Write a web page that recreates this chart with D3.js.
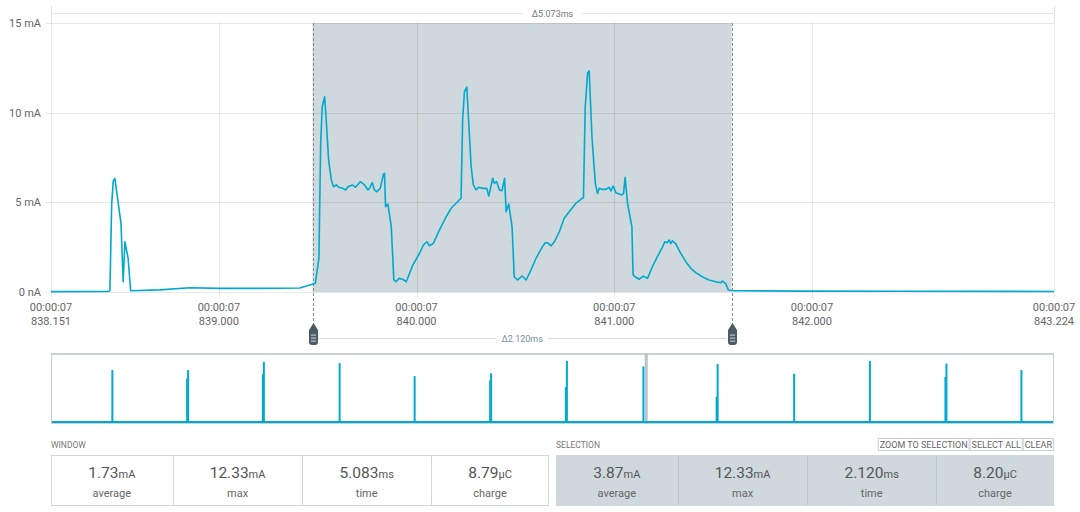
<!DOCTYPE html>
<html>
<head>
<meta charset="utf-8">
<script src="https://cdn.jsdelivr.net/npm/d3@7"></script>
<style>
    body { margin: 0; background: #fff; }
    svg { font-family: Roboto, "Noto Sans", sans-serif; display: block; }
</style>
</head>
<body>
<svg id="chart" width="1080" height="512"></svg>
<script>
// ---- data ----
// trace: time (ms within second 00:00:07) and current (mA)
const traceTimes = [838.151, 838.444, 838.449, 838.458, 838.466, 838.474, 838.505, 838.516, 838.525, 838.541,
    838.554, 838.702, 838.853, 839.005, 839.207, 839.409, 839.476, 839.488, 839.506, 839.515,
    839.523, 839.535, 839.543, 839.555, 839.569, 839.580, 839.594, 839.607, 839.627, 839.641,
    839.653, 839.675, 839.691, 839.715, 839.737, 839.754, 839.762, 839.776, 839.787, 839.799,
    839.816, 839.833, 839.838, 839.843, 839.855, 839.872, 839.885, 839.897, 839.910, 839.930,
    839.948, 839.981, 840.015, 840.035, 840.052, 840.065, 840.085, 840.116, 840.150, 840.175,
    840.200, 840.225, 840.233, 840.242, 840.254, 840.264, 840.276, 840.287, 840.301, 840.314,
    840.334, 840.355, 840.365, 840.372, 840.385, 840.393, 840.405, 840.419, 840.432, 840.445,
    840.453, 840.466, 840.483, 840.494, 840.511, 840.533, 840.554, 840.579, 840.604, 840.637,
    840.651, 840.663, 840.680, 840.697, 840.722, 840.747, 840.772, 840.806, 840.831, 840.844,
    840.853, 840.865, 840.873, 840.887, 840.904, 840.915, 840.924, 840.940, 840.958, 840.974,
    840.983, 840.994, 841.008, 841.025, 841.038, 841.047, 841.055, 841.067, 841.089, 841.095,
    841.109, 841.126, 841.146, 841.168, 841.193, 841.218, 841.243, 841.256, 841.269, 841.277,
    841.286, 841.294, 841.311, 841.336, 841.362, 841.387, 841.412, 841.445, 841.479, 841.513,
    841.538, 841.547, 841.564, 841.577, 841.597, 841.934, 842.439, 843.224];

const traceCurrent = [0.02, 0.03, 0.10, 4.9, 6.2, 6.34, 3.83, 0.57, 2.8, 1.88,
    0.07, 0.12, 0.24, 0.20, 0.20, 0.22, 0.45, 0.49, 1.88, 8.3,
    10.33, 10.89, 9.6, 7.36, 6.25, 5.87, 5.97, 5.84, 5.78, 5.69,
    5.87, 5.97, 5.84, 6.15, 5.97, 5.69, 5.78, 6.10, 5.69, 5.59,
    5.78, 6.58, 6.62, 4.76, 4.90, 3.64, 0.67, 0.57, 0.76, 0.71,
    0.57, 1.50, 2.16, 2.62, 2.80, 2.58, 2.71, 3.46, 4.20, 4.67,
    4.95, 5.23, 9.59, 11.17, 11.42, 9.40, 6.99, 5.97, 5.69, 5.84,
    5.78, 5.78, 5.35, 5.69, 6.34, 6.06, 6.15, 5.69, 5.65, 6.34,
    4.48, 4.90, 3.64, 0.85, 0.67, 0.89, 0.67, 1.23, 1.88, 2.53,
    2.75, 2.75, 2.57, 2.80, 3.36, 4.11, 4.48, 4.95, 5.17, 5.26,
    10.33, 12.20, 12.33, 8.66, 6.06, 5.50, 5.78, 5.72, 5.72, 5.84,
    5.63, 5.91, 5.54, 5.47, 5.41, 5.50, 6.40, 4.95, 3.64, 0.95,
    0.82, 0.71, 0.89, 0.76, 1.41, 1.97, 2.49, 2.80, 2.75, 2.90,
    2.70, 2.86, 2.68, 2.16, 1.69, 1.32, 1.08, 0.85, 0.67, 0.57,
    0.52, 0.61, 0.45, 0.11, 0.07, 0.05, 0.04, 0.03];

const windowRange = [838.151, 843.224];
const selectionRange = [839.474, 841.594];
const windowDelta = "Δ5.073ms";
const selectionDelta = "Δ2.120ms";

const yTicks = [0, 5, 10, 15];
const yTickLabels = ["0 nA", "5 mA", "10 mA", "15 mA"];
const xTicks = [838.151, 839, 840, 841, 842, 843.224];
const xTickPrefix = "00:00:07";

// overview (whole recording, seconds): spike time, peak mA, second lower peak mA (0 = none)
const overviewSpikeTimes = [0.81, 1.81, 2.81, 3.81, 4.80, 5.81, 6.81, 7.82, 8.80, 9.81, 10.81, 11.82, 12.81];
const overviewSpikePeaks = [11.5, 11.5, 13.3, 13.0, 10.2, 10.8, 13.5, 12.3, 12.8, 10.7, 13.5, 12.9, 11.5];
const overviewSpikeSecond = [0, 9.7, 10.6, 0, 0, 9.3, 7.8, 0, 5.7, 0, 0, 10.0, 0];
const overviewBase = 0.2;
const overviewDuration = 13.24;
const overviewWindowStart = 7.838;

const statLabels = ["average", "max", "time", "charge"];
const statUnits = ["mA", "mA", "ms", "µC"];
const windowValues = ["1.73", "12.33", "5.083", "8.79"];
const selectionValues = ["3.87", "12.33", "2.120", "8.20"];
const selectionButtons = ["ZOOM TO SELECTION", "SELECT ALL", "CLEAR"];

// ---- drawing ----
const blue = "#00a9ce";
const slate = "#cfd8dc";
const gridColor = "rgba(0,0,0,0.09)";

const svg = d3.select("#chart");

const plotLeft = 51, plotRight = 1054, plotTop = 23, plotBottom = 292;

const x = d3.scaleLinear().domain(windowRange).range([plotLeft, plotRight]);
const y = d3.scaleLinear().domain([0, 15]).range([plotBottom, plotTop]);

// selection shading
svg.append("rect")
    .attr("x", x(selectionRange[0]))
    .attr("y", plotTop)
    .attr("width", x(selectionRange[1]) - x(selectionRange[0]))
    .attr("height", plotBottom - plotTop)
    .attr("fill", slate);

// grid
svg.append("g").selectAll("line")
    .data(yTicks)
    .enter().append("line")
    .attr("x1", plotLeft - 5).attr("x2", plotRight)
    .attr("y1", d => Math.round(y(d)) + 0.5).attr("y2", d => Math.round(y(d)) + 0.5)
    .attr("stroke", gridColor);

svg.append("g").selectAll("line")
    .data(xTicks)
    .enter().append("line")
    .attr("x1", d => Math.round(x(d)) + 0.5).attr("x2", d => Math.round(x(d)) + 0.5)
    .attr("y1", plotTop).attr("y2", plotBottom + 6)
    .attr("stroke", gridColor);

// y labels
svg.append("g").selectAll("text")
    .data(yTicks)
    .enter().append("text")
    .attr("x", 41)
    .attr("y", d => y(d) + 4)
    .attr("text-anchor", "end")
    .attr("font-size", 11)
    .attr("fill", "#666")
    .text((d, i) => yTickLabels[i]);

// x labels (two lines)
const xl = svg.append("g").selectAll("text")
    .data(xTicks)
    .enter().append("text")
    .attr("text-anchor", "middle")
    .attr("font-size", 11)
    .attr("fill", "#666");
xl.append("tspan").attr("x", d => x(d)).attr("y", 311).text(xTickPrefix);
xl.append("tspan").attr("x", d => x(d)).attr("y", 325).text(d => d3.format(".3f")(d));

// top delta bracket for the whole window
const topY = 13.5;
svg.append("line")
    .attr("x1", plotLeft).attr("x2", plotRight).attr("y1", topY).attr("y2", topY)
    .attr("stroke", "#e3e7e9");
svg.append("g").selectAll("line")
    .data(windowRange)
    .enter().append("line")
    .attr("x1", d => Math.round(x(d)) + 0.5).attr("x2", d => Math.round(x(d)) + 0.5)
    .attr("y1", 6).attr("y2", plotTop)
    .attr("stroke", "#dde3e6");
const wMid = (x(windowRange[0]) + x(windowRange[1])) / 2;
svg.append("rect")
    .attr("x", wMid - 30).attr("y", 7).attr("width", 60).attr("height", 12)
    .attr("fill", "#fff");
svg.append("text")
    .attr("x", wMid).attr("y", topY + 3)
    .attr("text-anchor", "middle")
    .attr("font-size", 9)
    .attr("fill", "#777")
    .text(windowDelta);

// cursor dashed lines
svg.append("g").selectAll("line")
    .data(selectionRange)
    .enter().append("line")
    .attr("x1", d => Math.round(x(d)) + 0.5).attr("x2", d => Math.round(x(d)) + 0.5)
    .attr("y1", plotTop).attr("y2", 324)
    .attr("stroke", "#7b8d96")
    .attr("stroke-width", 1)
    .attr("stroke-dasharray", "3,2");

// trace
const line = d3.line()
    .x(d => x(d[0]))
    .y(d => y(d[1]));

svg.append("path")
    .datum(d3.zip(traceTimes, traceCurrent))
    .attr("d", line)
    .attr("fill", "none")
    .attr("stroke", blue)
    .attr("stroke-width", 1.6)
    .attr("stroke-linejoin", "round");

// selection delta bracket
const sY = 338.5;
const sMid = (x(selectionRange[0]) + x(selectionRange[1])) / 2;
svg.append("line")
    .attr("x1", x(selectionRange[0]) + 5).attr("x2", x(selectionRange[1]) - 5)
    .attr("y1", sY).attr("y2", sY)
    .attr("stroke", "#d5dde0");
svg.append("rect")
    .attr("x", sMid - 26).attr("y", sY - 6).attr("width", 52).attr("height", 12)
    .attr("fill", "#fff");
svg.append("text")
    .attr("x", sMid).attr("y", sY + 3)
    .attr("text-anchor", "middle")
    .attr("font-size", 9)
    .attr("fill", "#78909c")
    .text(selectionDelta);

// cursor handles
const handles = svg.append("g").selectAll("g")
    .data(selectionRange)
    .enter().append("g")
    .attr("transform", d => `translate(${Math.round(x(d)) + 0.5},0)`);
handles.append("path")
    .attr("d", "M0,323 L4.5,330 L4.5,342 Q4.5,345 1.5,345 L-1.5,345 Q-4.5,345 -4.5,342 L-4.5,330 Z")
    .attr("fill", "#4b5c66");
[334.5, 337.5, 340.5].forEach(yy => {
    handles.append("rect")
        .attr("x", -2.6).attr("y", yy).attr("width", 5.2).attr("height", 1.2)
        .attr("fill", "#b7c3c9");
});

// ---- overview ----
const oTop = 353, oBottom = 424;
const xo = d3.scaleLinear().domain([0, overviewDuration]).range([plotLeft, plotRight]);
const yo = d3.scaleLinear().domain([0, 15]).range([423, 354]);

svg.append("rect")
    .attr("x", plotLeft + 0.5).attr("y", oTop + 0.5)
    .attr("width", plotRight - plotLeft - 1).attr("height", oBottom - oTop - 1)
    .attr("fill", "#fff")
    .attr("stroke", "#c8d1d5");
svg.append("line")
    .attr("x1", plotLeft).attr("x2", plotRight).attr("y1", oTop + 1).attr("y2", oTop + 1)
    .attr("stroke", "#c8d1d5").attr("stroke-width", 2);

svg.append("rect")
    .attr("x", xo(overviewWindowStart))
    .attr("y", oTop)
    .attr("width", 3)
    .attr("height", oBottom - oTop)
    .attr("fill", "#b9c5cb");

svg.append("line")
    .attr("x1", plotLeft + 1).attr("x2", plotRight - 1)
    .attr("y1", yo(overviewBase)).attr("y2", yo(overviewBase))
    .attr("stroke", blue).attr("stroke-width", 2);

const spikes = svg.append("g").selectAll("g")
    .data(d3.zip(overviewSpikeTimes, overviewSpikePeaks, overviewSpikeSecond))
    .enter().append("g");
spikes.append("line")
    .attr("x1", d => xo(d[0])).attr("x2", d => xo(d[0]))
    .attr("y1", yo(0)).attr("y2", d => yo(d[1]))
    .attr("stroke", blue).attr("stroke-width", 2);
spikes.filter(d => d[2] > 0).append("line")
    .attr("x1", d => xo(d[0]) - 1.2).attr("x2", d => xo(d[0]) - 1.2)
    .attr("y1", yo(0)).attr("y2", d => yo(d[2]))
    .attr("stroke", blue).attr("stroke-width", 1.6);

// ---- stat panels ----
const cellEdges = [0, 121.7, 251.4, 380, 498];

function drawPanel(x0, title, values, fill, divider) {
    const g = svg.append("g").attr("transform", `translate(${x0},0)`);
    g.append("text")
        .attr("x", 0).attr("y", 447.5)
        .attr("font-size", 8.5)
        .attr("fill", "#777")
        .text(title);
    g.append("rect")
        .attr("x", 0.5).attr("y", 455.5).attr("width", 497).attr("height", 50)
        .attr("fill", fill)
        .attr("stroke", slate);
    g.selectAll("line.div")
        .data(cellEdges.slice(1, -1))
        .enter().append("line")
        .attr("x1", d => Math.round(d) + 0.5).attr("x2", d => Math.round(d) + 0.5)
        .attr("y1", 456).attr("y2", 505)
        .attr("stroke", divider);
    const cells = g.selectAll("g.cell")
        .data(values)
        .enter().append("g")
        .attr("transform", (d, i) => `translate(${(cellEdges[i] + cellEdges[i + 1]) / 2},0)`);
    const val = cells.append("text")
        .attr("y", 478)
        .attr("text-anchor", "middle")
        .attr("fill", "#555");
    val.append("tspan").attr("font-size", 15.5).text(d => d);
    val.append("tspan").attr("font-size", 11).text((d, i) => statUnits[i]);
    cells.append("text")
        .attr("y", 496.5)
        .attr("text-anchor", "middle")
        .attr("font-size", 11)
        .attr("fill", "#666")
        .text((d, i) => statLabels[i]);
    return g;
}

drawPanel(plotLeft, "WINDOW", windowValues, "#fff", slate);
drawPanel(556, "SELECTION", selectionValues, slate, "#bcc7cc");

// buttons, right aligned
let bx = plotRight;
const btnG = svg.append("g");
selectionButtons.slice().reverse().forEach(label => {
    const t = btnG.append("text")
        .attr("y", 447.5)
        .attr("font-size", 9)
        .attr("fill", "#666")
        .text(label);
    const w = t.node().getComputedTextLength() + 4;
    t.attr("x", bx - w + 2);
    btnG.insert("rect", "text")
        .attr("x", bx - w + 0.5).attr("y", 438.5)
        .attr("width", w - 1).attr("height", 12)
        .attr("fill", "#fff")
        .attr("stroke", "#c8d1d5");
    bx -= w;
});
</script>
</body>
</html>
